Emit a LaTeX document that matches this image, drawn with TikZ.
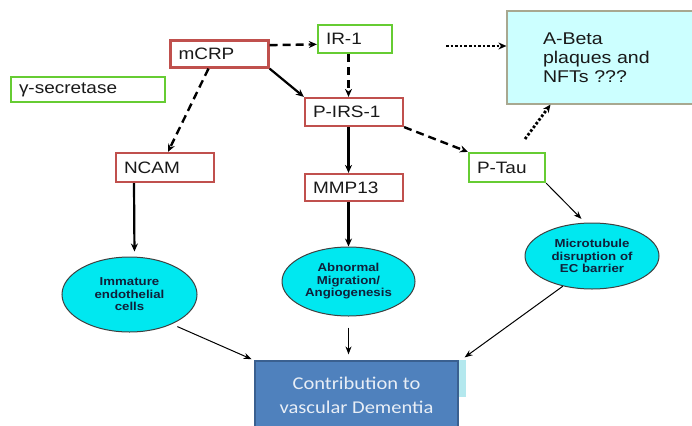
\documentclass[tikz,border=0pt]{standalone}
\usepackage{fontspec}
\setmainfont{Liberation Sans}[FakeStretch=1.15]
\newfontfamily\calibrifont{Carlito}[FakeStretch=1.14]
\usepackage{xcolor}
\usepackage{tikz}
\usetikzlibrary{positioning,calc,shapes.geometric,arrows.meta}

\definecolor{boxred}{HTML}{C0504D}
\definecolor{boxgreen}{HTML}{66CC33}
\definecolor{cellcyan}{HTML}{00E8F0}
\definecolor{cellnavy}{HTML}{10203A}
\definecolor{plaquecyan}{HTML}{CCFFFF}
\definecolor{plaqueedge}{HTML}{A8A890}
\definecolor{demblue}{HTML}{4F81BD}
\definecolor{demedge}{HTML}{3A6090}
\definecolor{demtext}{HTML}{E8EEF6}
\definecolor{stripcyan}{HTML}{B4E8EE}

\begin{document}
\begin{tikzpicture}[x=1pt,y=-1pt,
	protein/.style={draw, line width=2.2pt, fill=white, minimum height=28,
		minimum width=#1, text width=#1-16pt, inner xsep=8pt, inner ysep=0pt,
		align=left, font=\fontsize{16.5}{19}\selectfont, text=black!90},
	cell/.style={ellipse, draw=black!75, line width=1pt, fill=cellcyan,
		inner sep=0pt, text width=90pt, align=center, text=cellnavy,
		font=\bfseries\fontsize{11.5}{12.5}\selectfont},
	dasharrow/.style={line width=2.4pt, dash pattern=on 8pt off 5pt,
		-{Stealth[length=8pt,width=7pt]}},
	dotarrow/.style={line width=2.8pt, dash pattern=on 2.6pt off 2pt,
		-{Stealth[length=8pt,width=7pt]}},
	thickarrow/.style={line width=2.2pt, -{Stealth[length=8pt,width=7pt]}},
	thinarrow/.style={line width=1pt, -{Stealth[length=8pt,width=6pt]}}]
	\useasboundingbox (0,0) rectangle (692,425);
	\clip (0,0) rectangle (692,425);
	
	% eiwitten
	\node[protein=98pt, draw=boxred, minimum height=27] (mcrp) at (219.5,54) {mCRP};
	\node[protein=74pt, draw=boxgreen] (ir) at (355,39) {IR-1};
	\node[protein=154pt, draw=boxgreen, minimum height=25] (gsec) at (88,89.5) {γ-secretase};
	\node[protein=98pt, draw=boxred] (pirs) at (354,112) {P-IRS-1};
	\node[protein=98pt, draw=boxred, minimum height=27] (mmp) at (354,187.5) {MMP13};
	\node[protein=98pt, draw=boxred, minimum height=29] (ncam) at (165,167.5) {NCAM};
	\node[protein=76pt, draw=boxgreen, minimum height=29] (ptau) at (507,167.5) {P-Tau};
	
	% plaques
	\node[draw=plaqueedge, line width=1.2pt, fill=plaquecyan, minimum width=193,
		minimum height=93, text width=121pt, inner sep=0pt, align=left,
		font=\fontsize{17}{19}\selectfont, text=black!90] (abeta) at (603.5,57.5)
		{A-Beta\\plaques and\\NFTs ???};
	
	% gevolgen
	\node[cell, minimum width=135, minimum height=75] (e1) at (129.5,294.5)
		{Immature\\endothelial\\cells};
	\node[cell, minimum width=133, minimum height=69] (e2) at (348.5,281.5)
		{Abnormal\\Migration/\\Angiogenesis};
	\node[cell, minimum width=134, minimum height=66] (e3) at (592,256)
		{Microtubule\\disruption of\\EC barrier};
	
	% dementie
	\node[draw=demedge, line width=1.2pt, fill=demblue, minimum width=203,
		minimum height=69, inner sep=0pt, align=center, text=demtext,
		font=\calibrifont\fontsize{18}{24}\selectfont] (dem) at (356.5,395.5)
		{Contribution to\\vascular Dementia};
	\fill[stripcyan] ([xshift=0.6pt]dem.north east) rectangle ++(7,37);
	
	% vrije eindpunten van de stippellijnen
	\coordinate (irright) at (446,46);
	\coordinate (ptauup) at (525,139);
	
	% pijlen
	\draw[dasharrow] (mcrp.10) -- (ir.188);
	\draw[thickarrow] (mcrp.south east) -- (pirs.north west);
	\draw[dasharrow] (ir.south -| e2.north) -- (pirs.north -| e2.north);
	\draw[dasharrow] ([xshift=-11]mcrp.south) -- ([xshift=3]ncam.north);
	\draw[thickarrow] (pirs.south -| e2.north) -- (mmp.north -| e2.north);
	\draw[thickarrow] (mmp.south -| e2.north) -- (e2.north);
	\draw[dasharrow] (pirs.south east) -- (ptau.north west);
	\draw[dotarrow] (irright) -- (irright -| abeta.west);
	\draw[dotarrow] (ptauup) -- ([xshift=-53]abeta.south);
	\draw[thickarrow, shorten >=5pt] ([xshift=-31]ncam.south) -- ([xshift=5]e1.north);
	\draw[thinarrow, shorten >=5pt] (ptau.south east) -- ([xshift=-7]e3.north);
	
	\draw[thinarrow, shorten <=6pt, shorten >=3pt] (e1.-35) -- (dem.north west);
	\draw[thinarrow, shorten <=11pt, shorten >=6pt] (e2.south) -- (e2.south |- dem.north);
	\draw[thinarrow] (e3.226) -- ($(dem.north east)+(6,-3)$);
\end{tikzpicture}
\end{document}
